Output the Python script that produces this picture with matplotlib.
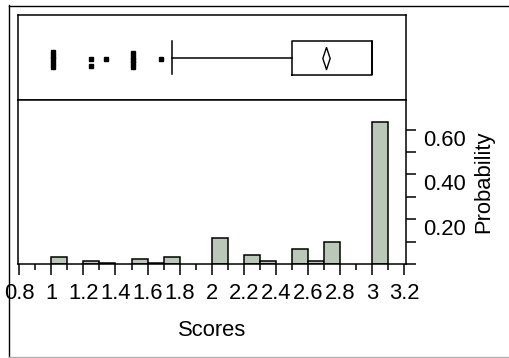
import matplotlib
matplotlib.use('Agg')
import matplotlib.pyplot as plt
import numpy as np
from matplotlib.lines import Line2D
from matplotlib.path import Path

# histogram bins (left edges, width 0.1) and probabilities
bin_left = [1.0, 1.2, 1.3, 1.5, 1.6, 1.7, 2.0, 2.2, 2.3, 2.5, 2.6, 2.7, 3.0]
prob = [0.033, 0.015, 0.006, 0.022, 0.006, 0.033, 0.116, 0.040, 0.015, 0.065, 0.015, 0.097, 0.634]
bin_width = 0.1

# box plot summary
q1, median, q3 = 2.5, 3.0, 3.0
whisk_lo, whisk_hi = 1.75, 3.0
mean = 2.71

# outliers (value, vertical jitter inside the box panel)
out_x = [1.012] * 5 + [1.25, 1.25, 1.341] + [1.511] * 5 + [1.682]
out_y = [0.39, 0.44, 0.48, 0.52, 0.57, 0.479, 0.40, 0.479, 0.39, 0.43, 0.47, 0.51, 0.55, 0.479]

x_major = [0.8, 1.0, 1.2, 1.4, 1.6, 1.8, 2.0, 2.2, 2.4, 2.6, 2.8, 3.0, 3.2]
x_labels = ['0.8', '1', '1.2', '1.4', '1.6', '1.8', '2', '2.2', '2.4', '2.6', '2.8', '3', '3.2']
y_major = [0.0, 0.2, 0.4, 0.6]
y_labels = ['', '0.20', '0.40', '0.60']

plt.rcParams['font.family'] = ['Liberation Sans', 'DejaVu Sans']
fs = 15.8

W, H = 509, 358
fig = plt.figure(figsize=(W / 100, H / 100), dpi=100)

def frac(l, t, r, b):
    return [l / W, 1 - b / H, (r - l) / W, (b - t) / H]

ax_box = fig.add_axes(frac(18, 15, 406, 100))
ax = fig.add_axes(frac(18, 100, 406, 264))

xlim = (0.792, 3.212)

# --- histogram ---
ax.bar(bin_left, prob, width=bin_width, align='edge', color='#BAC8B8',
       edgecolor='black', linewidth=1.1)
ax.set_xlim(*xlim)
ax.set_ylim(0, 0.732)
ax.set_xticks(x_major)
ax.set_xticklabels(x_labels, fontsize=fs)
ax.set_xticks(np.arange(0.9, 3.2, 0.2), minor=True)
ax.tick_params(axis='x', which='major', direction='out', length=8, width=1.1, pad=6)
ax.tick_params(axis='x', which='minor', direction='out', length=4.5, width=1.1)
ax.yaxis.tick_right()
ax.set_yticks(y_major)
ax.set_yticklabels(y_labels, fontsize=fs, va='top')
ax.set_yticks([0.1, 0.3, 0.5], minor=True)
ax.tick_params(axis='y', which='both', direction='out', length=7, width=1.1, pad=5)
ax.yaxis.set_label_position('right')
ax.set_ylabel('Probability', fontsize=fs, labelpad=6)
ax.set_xlabel('Scores', fontsize=fs, labelpad=11)
for s in ax.spines.values():
    s.set_linewidth(1.1)

# --- box plot ---
stats = [dict(med=median, q1=q1, q3=q3, whislo=whisk_lo, whishi=whisk_hi, mean=mean)]
ax_box.bxp(stats, positions=[0.5], widths=0.4, capwidths=0.38, orientation='horizontal',
           showfliers=False, showmeans=False,
           boxprops=dict(color='black', linewidth=1.1),
           whiskerprops=dict(color='black', linewidth=1.1),
           capprops=dict(color='black', linewidth=1.1),
           medianprops=dict(color='black', linewidth=1.1))
diamond = Path([(0, 1), (0.33, 0), (0, -1), (-0.33, 0), (0, 1)])
ax_box.plot([mean], [0.5], marker=diamond, markersize=16, markerfacecolor='white',
            markeredgecolor='black', markeredgewidth=1.0, linestyle='none')
ax_box.plot(out_x, out_y, marker='s', markersize=2.9, color='black', linestyle='none')
ax_box.set_xlim(*xlim)
ax_box.set_ylim(0, 1)
ax_box.set_xticks([])
ax_box.set_yticks([])
for s in ax_box.spines.values():
    s.set_linewidth(1.1)

# outer frame
fig.add_artist(Line2D([8.5 / W, 8.5 / W], [1 - 5 / H, 0], transform=fig.transFigure,
                      color='black', linewidth=1.0))
fig.add_artist(Line2D([8.5 / W, 1], [1 - 5.5 / H, 1 - 5.5 / H], transform=fig.transFigure,
                      color='black', linewidth=1.0))
fig.add_artist(Line2D([8.5 / W, 1], [1 - 357 / H, 1 - 357 / H], transform=fig.transFigure,
                      color='#b0b0b0', linewidth=1.0))

fig.savefig('out.png', dpi=100)
